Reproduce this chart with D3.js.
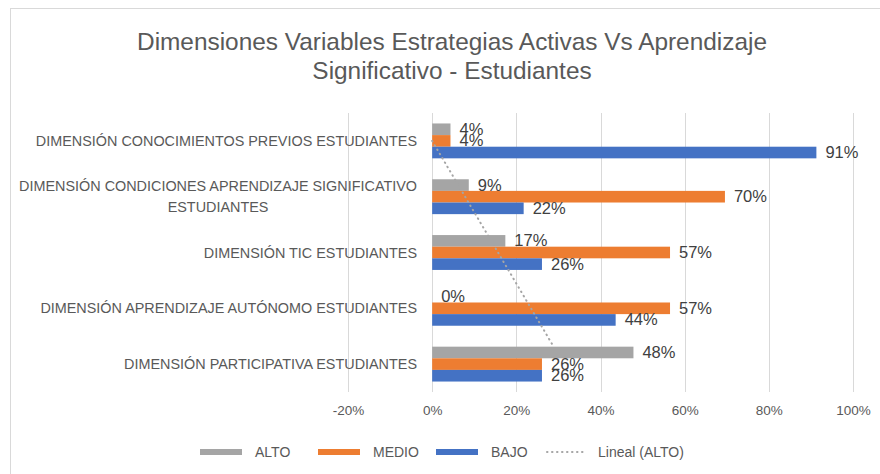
<!DOCTYPE html>
<html>
<head>
<meta charset="utf-8">
<script src="https://cdnjs.cloudflare.com/ajax/libs/d3/7.8.5/d3.min.js"></script>
<style>
    body { margin: 0; background: #fff; }
    svg { display: block; font-family: "Liberation Sans", Arial, sans-serif; }
</style>
</head>
<body>
<div id="chart"></div>
<script>
"use strict";

const categories = [
    ["DIMENSIÓN CONOCIMIENTOS PREVIOS ESTUDIANTES"],
    ["DIMENSIÓN CONDICIONES APRENDIZAJE SIGNIFICATIVO", "ESTUDIANTES"],
    ["DIMENSIÓN TIC ESTUDIANTES"],
    ["DIMENSIÓN APRENDIZAJE AUTÓNOMO ESTUDIANTES"],
    ["DIMENSIÓN PARTICIPATIVA ESTUDIANTES"],
];
const seriesNames = ["ALTO", "MEDIO", "BAJO"];
const alto = [0.0435, 0.087, 0.1739, 0.0, 0.4783];
const medio = [0.0435, 0.6957, 0.5652, 0.5652, 0.2609];
const bajo = [0.913, 0.2174, 0.2609, 0.436, 0.2609];
const xTicks = [-0.2, 0, 0.2, 0.4, 0.6, 0.8, 1.0];
const titleLines = [
    "Dimensiones Variables Estrategias Activas Vs Aprendizaje",
    "Significativo - Estudiantes",
];
const trendName = "Lineal (ALTO)";

const colors = { ALTO: "#a5a5a5", MEDIO: "#ed7d31", BAJO: "#4472c4" };
const values = { ALTO: alto, MEDIO: medio, BAJO: bajo };

const width = 880;
const height = 474;
const plot = { left: 348, right: 853, top: 113, bottom: 392 };

const svg = d3
    .select("#chart")
    .append("svg")
    .attr("width", width)
    .attr("height", height);

// chart border
svg.append("rect")
    .attr("x", 10.5)
    .attr("y", 8.5)
    .attr("width", width + 20)
    .attr("height", height + 20)
    .attr("fill", "#fff")
    .attr("stroke", "#d9d9d9");

// title
svg.append("text")
    .attr("text-anchor", "middle")
    .attr("fill", "#595959")
    .style("font-size", "24.4px")
    .selectAll("tspan")
    .data(titleLines)
    .enter()
    .append("tspan")
    .attr("x", 452)
    .attr("y", (_, i) => 50 + i * 29)
    .text(d => d);

// scales
const xScale = d3.scaleLinear().domain([-0.2, 1.0]).range([plot.left, plot.right]);
const catIdx = d3.range(categories.length);
const yScale = d3
    .scaleBand()
    .domain(catIdx)
    .range([plot.top, plot.bottom])
    .paddingInner(0.375)
    .paddingOuter(0.1875);
const ySub = d3.scaleBand().domain(seriesNames).range([0, yScale.bandwidth()]);

// gridlines
svg.append("g")
    .selectAll("line")
    .data(xTicks)
    .enter()
    .append("line")
    .attr("x1", d => Math.round(xScale(d)) + 0.5)
    .attr("x2", d => Math.round(xScale(d)) + 0.5)
    .attr("y1", plot.top)
    .attr("y2", plot.bottom)
    .attr("stroke", "#d9d9d9");

// x axis labels
const xAxis = d3
    .axisBottom(xScale)
    .tickValues(xTicks)
    .tickSize(0)
    .tickPadding(0)
    .tickFormat(d => Math.round(d * 100) + "%");

const gx = svg.append("g")
    .attr("transform", `translate(0, ${plot.bottom + 13})`)
    .call(xAxis);
gx.select(".domain").remove();
gx.selectAll("text")
    .attr("fill", "#595959")
    .style("font-size", "13.5px")
    .style("font-family", "Liberation Sans, Arial, sans-serif");

// category labels
const catLabels = svg.append("g").style("font-size", "14.4px").attr("fill", "#595959");
categories.forEach((lines, i) => {
    const cy = yScale(i) + yScale.bandwidth() / 2;
    const t = catLabels.append("text").attr("text-anchor", "middle");
    const spans = t
        .selectAll("tspan")
        .data(lines)
        .enter()
        .append("tspan")
        .attr("y", (_, j) => cy + 5 + (j - (lines.length - 1) / 2) * 21)
        .text(d => d);
    const w = d3.max(spans.nodes(), n => n.getComputedTextLength());
    spans.attr("x", 417 - w / 2);
});

// bars
const bars = svg.append("g");
seriesNames.forEach(name => {
    bars.selectAll(null)
        .data(values[name])
        .enter()
        .append("rect")
        .attr("x", xScale(0))
        .attr("y", (_, i) => yScale(i) + ySub(name))
        .attr("width", d => xScale(d) - xScale(0))
        .attr("height", ySub.bandwidth())
        .attr("fill", colors[name]);
});

// linear trend of ALTO (Excel counts categories from the bottom)
const n = alto.length;
const xs = alto.map((_, i) => n - i);
const mx = d3.mean(xs);
const my = d3.mean(alto);
const slope =
    d3.sum(xs, (x, i) => (x - mx) * (alto[i] - my)) / d3.sum(xs, x => (x - mx) * (x - mx));
const icpt = my - slope * mx;
const yIdx = d3
    .scaleLinear()
    .domain([n, 1])
    .range([yScale(0) + yScale.bandwidth() / 2, yScale(n - 1) + yScale.bandwidth() / 2]);
const endIdx = yIdx.invert(yScale(n - 1));
svg.append("line")
    .attr("x1", xScale(icpt + slope * n))
    .attr("y1", yIdx(n))
    .attr("x2", xScale(icpt + slope * endIdx))
    .attr("y2", yIdx(endIdx))
    .attr("stroke", "#a5a5a5")
    .attr("stroke-width", 2)
    .attr("stroke-linecap", "round")
    .attr("stroke-dasharray", "0.5 4.5");

// data labels
const labels = svg.append("g").style("font-size", "16.5px").attr("fill", "#404040");
seriesNames.forEach(name => {
    labels.selectAll(null)
        .data(values[name])
        .enter()
        .append("text")
        .attr("x", d => xScale(d) + 9)
        .attr("y", (_, i) => yScale(i) + ySub(name) + ySub.bandwidth() / 2 + 5.5)
        .text(d => Math.round(d * 100) + "%");
});

// legend
const legendItems = [
    { name: "ALTO", x: 200 },
    { name: "MEDIO", x: 318 },
    { name: "BAJO", x: 436 },
];
const legend = svg.append("g").style("font-size", "14px").attr("fill", "#595959");
legendItems.forEach(item => {
    legend.append("rect")
        .attr("x", item.x)
        .attr("y", 449)
        .attr("width", 42)
        .attr("height", 6)
        .attr("fill", colors[item.name]);
    legend.append("text")
        .attr("x", item.x + 55)
        .attr("y", 457)
        .text(item.name);
});
legend.append("line")
    .attr("x1", 547)
    .attr("x2", 587)
    .attr("y1", 452)
    .attr("y2", 452)
    .attr("stroke", "#a5a5a5")
    .attr("stroke-width", 2)
    .attr("stroke-linecap", "round")
    .attr("stroke-dasharray", "0.5 4.5");
legend.append("text")
    .attr("x", 598)
    .attr("y", 457)
    .text(trendName);
</script>
</body>
</html>
